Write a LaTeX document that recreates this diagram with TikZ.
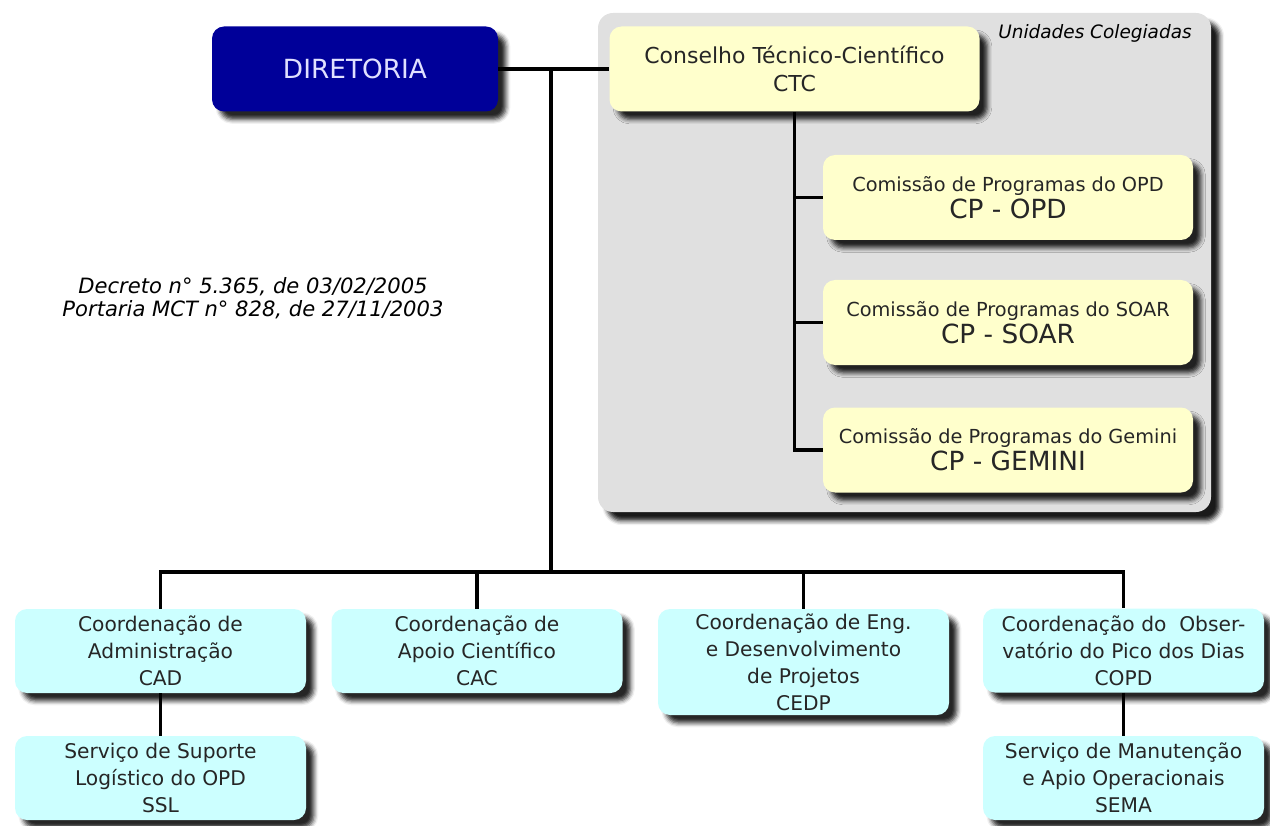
\documentclass[tikz,border=0pt]{standalone}
\usepackage{fontspec}
\setmainfont{DejaVu Sans}
\usepackage{tikz}
\usetikzlibrary{shadows.blur}

\definecolor{navy}{HTML}{000099}
\definecolor{creme}{HTML}{FFFFCC}
\definecolor{ciano}{HTML}{CCFFFF}
\definecolor{painel}{HTML}{E0E0E0}

\begin{document}
\begin{tikzpicture}[
        caixa/.style={rounded corners=0.24cm, align=center, inner sep=2pt, text=black!85,
            blur shadow={shadow xshift=4.5pt, shadow yshift=-4.5pt, shadow blur radius=2.5pt, shadow opacity=85}},
        diretoria/.style={caixa, fill=navy, text=white!88!blue, minimum width=5.72cm, minimum height=1.7cm,
            font=\fontsize{15}{18}\selectfont},
        colegiada/.style={caixa, fill=creme, minimum width=7.4cm, minimum height=1.7cm,
            font=\fontsize{11}{15.5}\selectfont},
        coord/.style={caixa, fill=ciano, minimum width=5.82cm, minimum height=1.68cm,
            font=\fontsize{11.5}{15.3}\selectfont},
        linha/.style={line width=2.2pt}
    ]
    \useasboundingbox (0,0) rectangle (25.4,16.5);

    % Gray panel of the collegiate units
    \node (unidades) at (18.09,11.25) [rounded corners=0.3cm, fill=painel, minimum width=12.26cm, minimum height=9.98cm,
        blur shadow={shadow xshift=5pt, shadow yshift=-5pt, shadow blur radius=2.5pt, shadow opacity=90}] {};
    \node (rotulo) at (21.9,15.84) [font=\itshape\fontsize{10.5}{12}\selectfont] {Unidades Colegiadas};

    % Top level
    \node (dir) at (7.10,15.12) [diretoria] {DIRETORIA};
    \node (ctc) at (15.89,15.12) [colegiada, font=\fontsize{12.5}{16}\selectfont] {Conselho Técnico-Científico\\CTC};

    % Program committees
    \node (opd) at (20.16,12.55) [colegiada] {Comissão de Programas do OPD\\{\fontsize{15}{18}\selectfont CP - OPD}};
    \node (soar) at (20.16,10.05) [colegiada] {Comissão de Programas do SOAR\\{\fontsize{15}{18}\selectfont CP - SOAR}};
    \node (gemini) at (20.16,7.50) [colegiada] {Comissão de Programas do Gemini\\{\fontsize{15}{18}\selectfont CP - GEMINI}};

    % Legal basis
    \node (decreto) at (5.06,10.54) [align=center, font=\itshape\fontsize{12}{13}\selectfont]
        {Decreto n° 5.365, de 03/02/2005\\Portaria MCT n° 828, de 27/11/2003};

    % Coordinations
    \node (cad) at (3.21,3.48) [coord] {Coordenação de\\Administração\\CAD};
    \node (cac) at (9.54,3.48) [coord] {Coordenação de\\Apoio Científico\\CAC};
    \node (cedp) at (16.07,3.26) [coord, minimum height=2.12cm] {Coordenação de Eng.\\e Desenvolvimento\\de Projetos\\CEDP};
    \node (copd) at (22.47,3.49) [coord, minimum width=5.62cm] {Coordenação do \ Obser-\\vatório do Pico dos Dias\\COPD};

    % Services
    \node (ssl) at (3.21,0.94) [coord] {Serviço de Suporte\\Logístico do OPD\\SSL};
    \node (sema) at (22.47,0.94) [coord, minimum width=5.62cm] {Serviço de Manutenção\\e Apio Operacionais\\SEMA};

    % Connectors
    \coordinate (juncao) at (11.02,15.12);
    \coordinate (barra) at (11.02,5.06);
    \draw[linha] (dir) -- (ctc);
    \draw[linha] (juncao) -- (barra);
    \draw[linha] (cad.north) -- (cad.north |- barra) -| (copd.north);
    \draw[linha] (cac.north) -- (cac.north |- barra);
    \draw[linha] (cedp.north) -- (cedp.north |- barra);
    \draw[linha] (cad) -- (ssl);
    \draw[linha] (copd) -- (sema);
    \draw[linha] (ctc.south) |- (gemini.west);
    \draw[linha] (opd.west -| ctc.south) -- (opd.west);
    \draw[linha] (soar.west -| ctc.south) -- (soar.west);

\end{tikzpicture}
\end{document}
